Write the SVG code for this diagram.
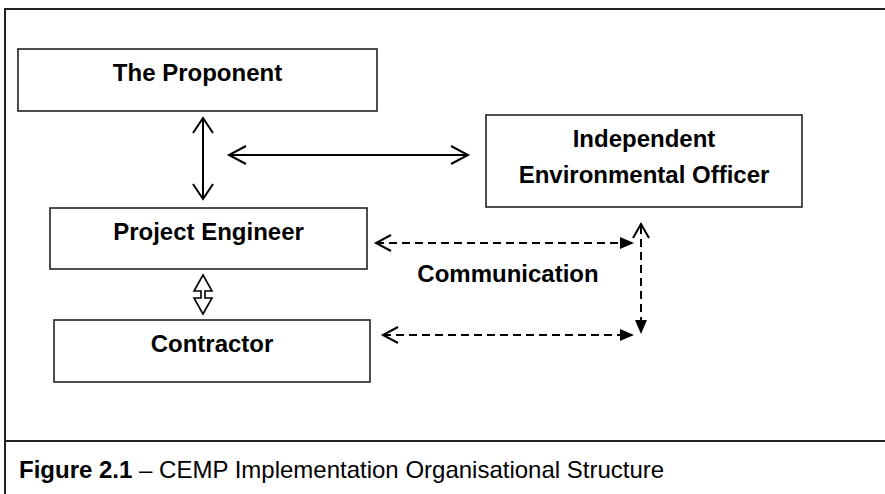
<svg xmlns="http://www.w3.org/2000/svg" width="885" height="494" viewBox="0 0 885 494">
<defs>
<style>
.box{fill:#fff;stroke:#222;stroke-width:1.6}
.lbl{font-family:"Liberation Sans",Arial,sans-serif;font-weight:bold;font-size:24px;fill:#000;text-anchor:middle}
.frame{fill:none;stroke:#222;stroke-width:2}
.ln{fill:none;stroke:#000;stroke-width:2}
.dash{fill:none;stroke:#000;stroke-width:2;stroke-dasharray:8,5}
.open{fill:none;stroke:#000;stroke-width:2;stroke-linejoin:miter}
.filled{fill:#000}
</style>
</defs>
<rect width="885" height="494" fill="#fff"/>
<g id="frame">
<path class="frame" d="M5,494 V9 H885 M5,441 H885"/>
</g>
<g id="proponent">
<rect class="box" x="18" y="49" width="359" height="62"/>
<text class="lbl" x="197.5" y="81">The Proponent</text>
</g>
<g id="ieo">
<rect class="box" x="486" y="115" width="316" height="92"/>
<text class="lbl" x="644" y="147">Independent</text>
<text class="lbl" x="644" y="183">Environmental Officer</text>
</g>
<g id="project-engineer">
<rect class="box" x="50" y="208" width="317" height="61"/>
<text class="lbl" x="208.5" y="240">Project Engineer</text>
</g>
<g id="contractor">
<rect class="box" x="54" y="320" width="316" height="62"/>
<text class="lbl" x="212" y="352">Contractor</text>
</g>
<g id="connectors">
<path class="ln" d="M203,118 V199"/>
<path class="open" d="M193,133 L203,118 L213,133 M193,184 L203,199 L213,184"/>
<path class="ln" d="M229,155 H468"/>
<path class="open" d="M246,146 L229,155 L246,164 M451,146 L468,155 L451,164"/>
<path fill="#fff" stroke="#000" stroke-width="1.6" stroke-linejoin="miter" d="M203,275 L194,291 L201,291 L201,298 L194,298 L203,314 L212,298 L205,298 L205,291 L212,291 Z"/>
<path class="dash" d="M376,243 H622"/>
<path class="open" d="M391,235 L376,243 L391,251"/>
<path class="filled" d="M620,237 L634,243 L620,249 Z"/>
<path class="dash" d="M383,335 H622"/>
<path class="open" d="M398,327 L383,335 L398,343"/>
<path class="filled" d="M620,329 L634,335 L620,341 Z"/>
<path class="dash" d="M641,226 V322"/>
<path class="open" d="M633,238 L641,224 L649,238"/>
<path class="filled" d="M635,320 L641,334 L647,320 Z"/>
<text class="lbl" x="508" y="282">Communication</text>
</g>
<g id="caption">
<text x="19" y="478" font-family="'Liberation Sans',Arial,sans-serif" font-size="24" fill="#000"><tspan font-weight="bold">Figure 2.1</tspan> – CEMP Implementation Organisational Structure</text>
</g>
</svg>
